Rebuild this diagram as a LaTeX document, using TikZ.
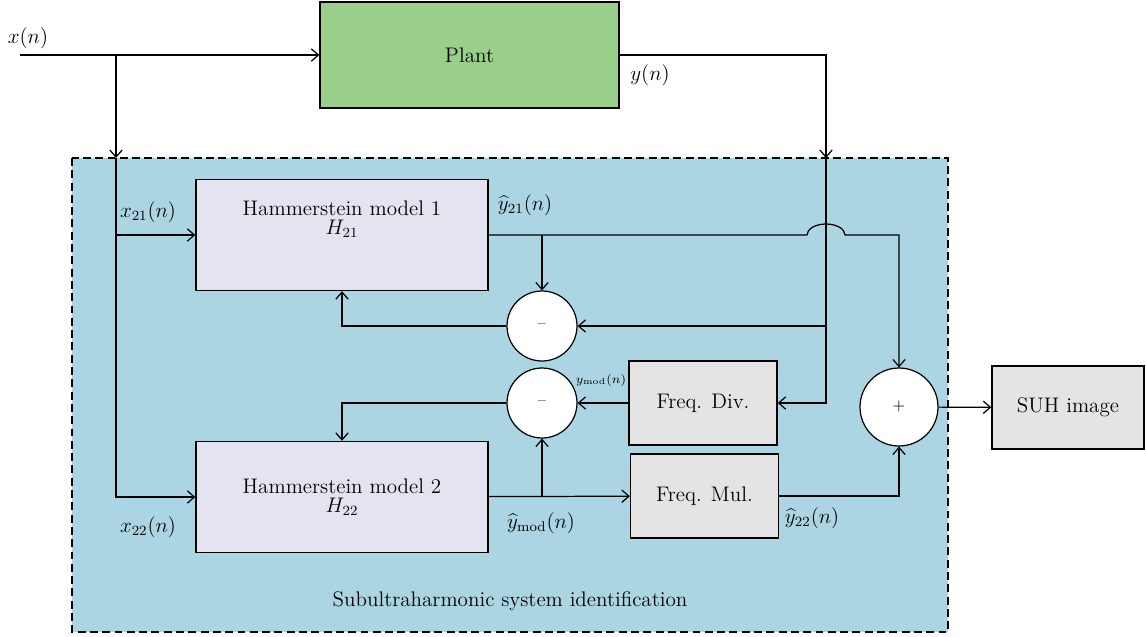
\documentclass[tikz,border=0pt]{standalone}
\usetikzlibrary{positioning,calc,arrows.meta}
\definecolor{plantgreen}{RGB}{153,207,139}
\definecolor{sysblue}{RGB}{171,213,226}
\definecolor{hamfill}{RGB}{228,228,240}
\definecolor{boxgray}{RGB}{228,228,228}
\begin{document}
\begin{tikzpicture}[x=0.02cm,y=-0.02cm,font=\fontsize{12}{14}\selectfont,line width=0.7pt,
  >={Straight Barb[length=4pt,width=7pt]},
  block/.style={draw,line width=0.8pt,minimum width=2.96cm,minimum height=1.68cm,fill=boxgray},
  ham/.style={draw,line width=0.8pt,minimum width=5.84cm,minimum height=2.22cm,fill=hamfill,align=center},
  sum/.style={draw,circle,fill=white,minimum size=1.4cm,inner sep=0pt,font=\small},
  lab/.style={inner sep=1pt}]
\useasboundingbox (0,0) rectangle (1146,636);
\draw[dash pattern=on 4.5pt off 2.5pt,fill=sysblue] (72,158) rectangle (948,632);
\node (0) at (469.5,55) [draw,line width=0.8pt,fill=plantgreen,minimum width=5.98cm,minimum height=2.12cm] {Plant};
\node (3) at (342,235) [ham] {Hammerstein model 1\\[-3pt] $H_{21}$\\[6pt]\mbox{}};
\node (4) at (342,497) [ham] {Hammerstein model 2\\[-3pt] $H_{22}$};
\node (5) at (542,326) [sum] {--};
\node (6) at (542,403) [sum] {--};
\node (7) at (703,403) [block] {Freq. Div.};
\node (8) at (704.5,496) [block] {Freq. Mul.};
\node (9) at (899,407) [sum,minimum size=1.56cm] {+};
\node (10) at (1068,407.5) [block,minimum width=3.04cm,minimum height=1.66cm] {SUH image};
\node (11) at (510,601) {Subultraharmonic system identification};
\coordinate (a) at (20,55);
\coordinate (b) at (116,55);
\coordinate (c) at (116,158);
\coordinate (e) at (826,158);
\draw[->](a)--(0);
\draw[->](b)--(c);
\draw[->](c)|-(4);
\draw[->](c|-3)--(3);
\draw[->](0)-|(e);
\draw[->](e)|-(7);
\draw[->](e|-5)--(5);
\draw[->](3)--($(e|-3)+(-19,0)$) arc[start angle=180,end angle=0,x radius=0.38cm,y radius=0.22cm]-|(9);
\draw[->](5|-3)--(5);
\draw[->](5)-|(3);
\draw[->](7)--(6);
\draw[->](6)-|(4);
\draw[->](4)--(8);
\draw[->](6|-4)--(6);
\draw[->](8)-|(9);
\draw[->](9)--(10);
\node[lab] at (28,38) {$x(n)$};
\node[lab] at (650,75) {$y(n)$};
\node[lab] at (148,212) {$x_{21}(n)$};
\node[lab] at (525,205) {$\widehat{y}_{21}(n)$};
\node[lab] at (601,380) {\scriptsize$y_{\mathrm{mod}}(n)$};
\node[lab] at (148,527) {$x_{22}(n)$};
\node[lab] at (541,523) {$\widehat{y}_{\mathrm{mod}}(n)$};
\node[lab] at (812,518) {$\widehat{y}_{22}(n)$};
\end{tikzpicture}
\end{document}
